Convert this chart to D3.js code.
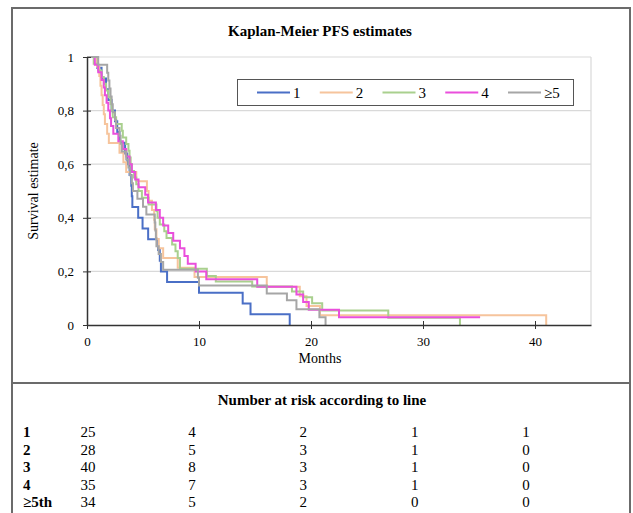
<!DOCTYPE html>
<html><head><meta charset="utf-8">
<script src="https://cdn.jsdelivr.net/npm/d3@7"></script>
<style>body{margin:0;background:#fff}svg{display:block}text{font-family:"Liberation Serif","Times New Roman",serif;fill:#000}</style>
</head><body><svg id="c" width="633" height="513"></svg>
<script>
// ---- data ----
const seriesNames = ["1","2","3","4","≥5"];
const seriesColors = ["#4a6fc6","#f6c49c","#a9d08e","#ea4fdc","#a6a6a6"];
const s1Times = [0,0.9,1.3,1.7,1.9,2.2,2.5,2.7,2.9,3.4,3.6,3.8,3.95,4.0,4.05,4.57,4.96,5.46,6.35,6.5,6.6,7.15,10.0,13.9,14.6,18.1];
const s1Surv  = [1,.96,.92,.88,.84,.80,.76,.72,.68,.64,.60,.56,.52,.48,.44,.40,.36,.32,.28,.24,.20,.16,.12,.08,.04,0];
const s2Times = [0,0.9,1.1,1.2,1.3,1.4,1.5,1.6,1.8,1.95,2.9,3.25,3.5,4.4,5.35,5.5,5.8,6.0,6.05,6.2,6.4,6.8,8.1,9.6,16.05,19.0,19.6,20.8,41.0];
const s2Surv  = [1,.964,.929,.893,.857,.821,.786,.750,.714,.679,.643,.607,.571,.536,.500,.464,.429,.393,.357,.321,.286,.250,.214,.179,.143,.107,.071,.036,0];
const s3Times = [0,0.6,1.0,1.3,1.5,1.7,1.9,2.1,2.2,2.3,2.6,3.1,3.2,3.5,3.7,3.8,3.9,4.0,4.2,4.4,4.6,4.9,5.5,6.2,6.3,6.5,6.9,7.1,7.6,7.9,8.1,8.3,10.7,11.5,14.75,18.3,19.3,20.1,21.0,26.9,33.3];
const s3Surv  = [1,.975,.95,.925,.90,.875,.85,.825,.80,.775,.75,.725,.70,.675,.65,.625,.60,.575,.55,.525,.50,.475,.45,.425,.40,.375,.35,.325,.30,.275,.25,.21,.183,.162,.144,.125,.104,.081,.054,.027,0];
const s4Times = [0,0.7,1.0,1.3,1.5,1.6,1.75,1.9,2.05,2.15,2.35,2.8,3.2,3.5,3.8,4.0,4.3,4.6,5.2,5.45,6.15,6.5,6.8,7.25,7.7,8.3,8.7,9.0,9.7,10.65,15.2,18.7,19.3,19.8,22.5,35.1];
const s4Surv  = [1,.971,.943,.914,.886,.857,.829,.80,.771,.743,.714,.686,.657,.629,.60,.571,.543,.514,.486,.457,.429,.40,.371,.343,.314,.286,.257,.229,.20,.171,.143,.114,.086,.057,.029,.029];
const s5Times = [0,1.0,1.8,1.9,2.0,2.1,2.2,2.3,2.5,2.6,2.9,3.0,3.1,3.5,3.7,3.85,4.0,4.1,4.5,5.0,5.3,6.05,6.1,6.15,6.2,6.4,6.6,6.8,9.9,10.0,16.05,17.85,18.7,20.75,21.3];
const s5Surv  = [1,.971,.941,.912,.882,.853,.824,.794,.765,.735,.706,.676,.647,.618,.588,.559,.529,.50,.471,.441,.412,.382,.353,.324,.294,.265,.235,.206,.176,.147,.118,.092,.059,.029,0];
const xTicks = [0,10,20,30,40];
const yTicks = [0,0.2,0.4,0.6,0.8,1];
const riskRows = ["1","2","3","4","≥5th"];
const riskTimes = [0,10,20,30,40];
const risk1 = [25,4,2,1,1];
const risk2 = [28,5,3,1,0];
const risk3 = [40,8,3,1,0];
const risk4 = [35,7,3,1,0];
const risk5 = [34,5,2,0,0];

const allTimes=[s1Times,s2Times,s3Times,s4Times,s5Times];
const allSurv=[s1Surv,s2Surv,s3Surv,s4Surv,s5Surv];
const allRisk=[risk1,risk2,risk3,risk4,risk5];

const svg=d3.select("#c");
// outer frame
svg.append("rect").attr("x",12).attr("y",8).attr("width",618).attr("height",520)
  .attr("fill","none").attr("stroke","#6b6b6b").attr("stroke-width",2);
svg.append("line").attr("x1",12).attr("x2",630).attr("y1",383).attr("y2",383)
  .attr("stroke","#6b6b6b").attr("stroke-width",2);

svg.append("text").attr("x",320).attr("y",36).attr("text-anchor","middle")
  .attr("font-weight","bold").attr("font-size",15).text("Kaplan-Meier PFS estimates");

const x=d3.scaleLinear().domain([0,45]).range([87,591]);
const y=d3.scaleLinear().domain([0,1]).range([325,57]);

// grid
svg.append("g").selectAll("line").data(yTicks.filter(d=>d>0)).join("line")
  .attr("x1",87).attr("x2",591).attr("y1",d=>y(d)).attr("y2",d=>y(d))
  .attr("stroke","#d9d9d9").attr("stroke-width",1.2);
svg.append("line").attr("x1",591).attr("x2",591).attr("y1",57).attr("y2",325)
  .attr("stroke","#d9d9d9").attr("stroke-width",1.2);

// curves
const line=d3.line().x(d=>x(d[0])).y(d=>y(d[1])).curve(d3.curveStepAfter);
allTimes.forEach((ts,i)=>{
  const pts=ts.map((t,j)=>[t,allSurv[i][j]]);
  svg.append("path").attr("d",line(pts)).attr("fill","none")
    .attr("stroke",seriesColors[i]).attr("stroke-width",2);
});

// axes
const xAxis=d3.axisBottom(x).tickValues(xTicks).tickSizeInner(4).tickSizeOuter(0).tickPadding(8);
const gx=svg.append("g").attr("transform","translate(0,325)").call(xAxis);
gx.select(".domain").attr("stroke","#333").attr("stroke-width",1.5);
gx.selectAll(".tick line").attr("y1",-4).attr("y2",4).attr("stroke","#333");
gx.selectAll("text").attr("font-family","Liberation Serif").attr("font-size",13).attr("fill","#000");

const yAxis=d3.axisLeft(y).tickValues(yTicks).tickSizeInner(4).tickSizeOuter(0).tickPadding(9)
  .tickFormat(d=>d===0?"0":d===1?"1":String(d).replace(".",","));
const gy=svg.append("g").attr("transform","translate(87,0)").call(yAxis);
gy.select(".domain").attr("stroke","#333").attr("stroke-width",1.5);
gy.selectAll(".tick line").attr("x1",-4).attr("x2",4).attr("stroke","#333");
gy.selectAll("text").attr("font-family","Liberation Serif").attr("font-size",13).attr("fill","#000");

svg.append("text").attr("x",320).attr("y",363).attr("text-anchor","middle")
  .attr("font-size",14).text("Months");
svg.append("text").attr("transform","translate(38,191) rotate(-90)").attr("text-anchor","middle")
  .attr("font-size",14).text("Survival estimate");

// legend
svg.append("rect").attr("x",237.5).attr("y",79.5).attr("width",336).attr("height",26)
  .attr("fill","#fff").attr("stroke","#555").attr("stroke-width",1);
const lx=d3.scalePoint().domain(seriesNames).range([257,508]);
seriesNames.forEach((n,i)=>{
  svg.append("line").attr("x1",lx(n)).attr("x2",lx(n)+33).attr("y1",92.5).attr("y2",92.5)
    .attr("stroke",seriesColors[i]).attr("stroke-width",2);
  svg.append("text").attr("x",lx(n)+36).attr("y",98).attr("font-size",15).text(n);
});

// risk table
svg.append("text").attr("x",322).attr("y",405).attr("text-anchor","middle")
  .attr("font-weight","bold").attr("font-size",15).text("Number at risk according to line");
const colX=d3.scaleLinear().domain([0,10,40]).range([88,192,526]);
const rowY=d3.scalePoint().domain(riskRows).range([437,507]);
riskRows.forEach((r,i)=>{
  svg.append("text").attr("x",23).attr("y",rowY(r)).attr("font-weight","bold")
    .attr("font-size",15).text(r);
  riskTimes.forEach((t,j)=>{
    svg.append("text").attr("x",colX(t)).attr("y",rowY(r)).attr("text-anchor","middle")
      .attr("font-size",15).text(allRisk[i][j]);
  });
});
</script></body></html>
